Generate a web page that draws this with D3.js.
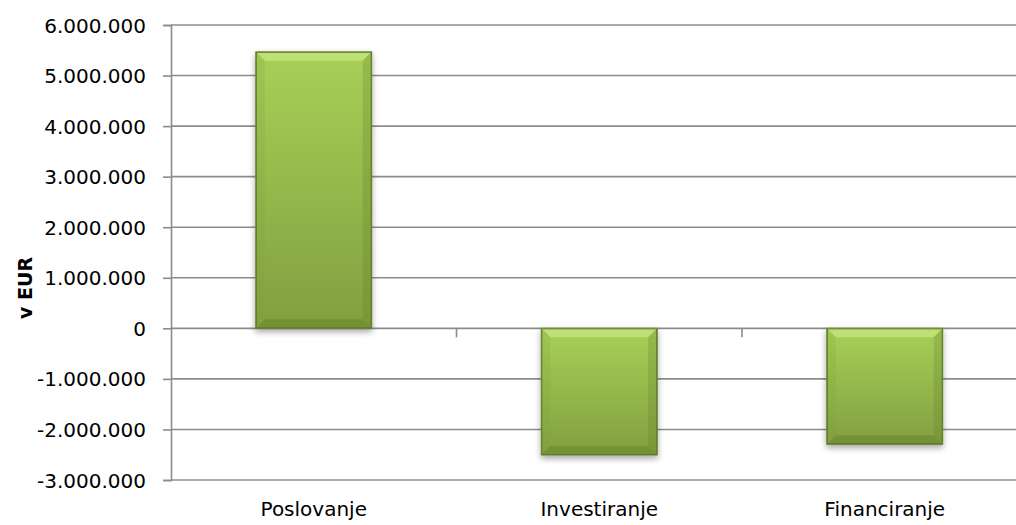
<!DOCTYPE html>
<html>
<head>
<meta charset="utf-8">
<script src="https://cdn.jsdelivr.net/npm/d3@7"></script>
<style>
  body { margin: 0; background: #fff; }
  text { font-family: "DejaVu Sans", sans-serif; fill: #000; }
</style>
</head>
<body>
<script>
// chart data
var categories = ["Poslovanje", "Investiranje", "Financiranje"];
var values = [5470000, -2506000, -2294000];
var tickValues = [-3000000, -2000000, -1000000, 0, 1000000, 2000000, 3000000, 4000000, 5000000, 6000000];
var axisTitle = "v EUR";

var w = 1016, h = 525;

var svg = d3.select("body").append("svg")
    .attr("width", w)
    .attr("height", h);

var defs = svg.append("defs");

// bar fill, light at the top, darker at the bottom
var grad = defs.append("linearGradient")
    .attr("id", "barFill")
    .attr("x1", 0).attr("y1", 0).attr("x2", 0).attr("y2", 1);
grad.append("stop").attr("offset", "0%").attr("stop-color", "#a8d057");
grad.append("stop").attr("offset", "100%").attr("stop-color", "#829f40");

var shadow = defs.append("filter")
    .attr("id", "shadow")
    .attr("x", "-20%").attr("y", "-20%")
    .attr("width", "140%").attr("height", "140%");
shadow.append("feDropShadow")
    .attr("dx", 0).attr("dy", 3)
    .attr("stdDeviation", 3)
    .attr("flood-color", "#000")
    .attr("flood-opacity", 0.35);

var x = d3.scaleBand()
    .domain(categories)
    .range([171, 1027.5])
    .paddingInner(0.594)
    .paddingOuter(0.297);

var y = d3.scaleLinear()
    .domain([-3000000, 6000000])
    .range([480, 25]);

var fmt = function(d){
    return d3.format(",")(d).replace(/,/g, ".").replace("−", "-");
};

// horizontal gridlines
svg.append("g")
    .selectAll("line")
    .data(tickValues)
    .enter()
    .append("line")
    .attr("x1", 171)
    .attr("x2", 1027.5)
    .attr("y1", function(d){ return y(d); })
    .attr("y2", function(d){ return y(d); })
    .style("stroke", "#8c8c8c")
    .style("stroke-width", 1.6);

// y axis
var yAxis = d3.axisLeft(y)
    .tickValues(tickValues)
    .tickSize(8)
    .tickPadding(17)
    .tickFormat(fmt);

var gy = svg.append("g")
    .attr("transform", "translate(171,0)")
    .call(yAxis);
gy.select(".domain").style("stroke", "#8c8c8c").style("stroke-width", 1.6);
gy.selectAll(".tick line").style("stroke", "#8c8c8c").style("stroke-width", 1.6);
gy.selectAll(".tick text")
    .style("font-size", "20px")
    .style("font-family", "'DejaVu Sans', sans-serif")
    .attr("dy", "0.35em");

// category ticks on the zero line
svg.append("g")
    .selectAll("line")
    .data(categories.slice(1))
    .enter()
    .append("line")
    .attr("x1", function(d){ return x(d) - x.step() * x.paddingInner() / 2; })
    .attr("x2", function(d){ return x(d) - x.step() * x.paddingInner() / 2; })
    .attr("y1", y(0))
    .attr("y2", y(0) + 9)
    .style("stroke", "#8c8c8c")
    .style("stroke-width", 1.6);

// bars
var bars = svg.append("g")
    .selectAll("g")
    .data(values)
    .enter()
    .append("g");

bars.append("rect")
    .attr("x", function(d, i){ return x(categories[i]); })
    .attr("width", x.bandwidth())
    .attr("y", function(d){ return y(Math.max(0, d)); })
    .attr("height", function(d){ return Math.abs(y(d) - y(0)); })
    .attr("fill", "url(#barFill)")
    .attr("stroke", "#6f8a35")
    .attr("stroke-width", 1)
    .attr("filter", "url(#shadow)");

// bevel edges
var bev = 9;
function edge(d, i, side){
    var x0 = x(categories[i]), x1 = x0 + x.bandwidth();
    var y0 = y(Math.max(0, d)), y1 = y(Math.min(0, d));
    var p;
    if (side === "top") p = [[x0, y0], [x1, y0], [x1 - bev, y0 + bev], [x0 + bev, y0 + bev]];
    if (side === "bottom") p = [[x0, y1], [x1, y1], [x1 - bev, y1 - bev], [x0 + bev, y1 - bev]];
    if (side === "left") p = [[x0, y0], [x0 + bev, y0 + bev], [x0 + bev, y1 - bev], [x0, y1]];
    if (side === "right") p = [[x1, y0], [x1 - bev, y0 + bev], [x1 - bev, y1 - bev], [x1, y1]];
    return p.map(function(q){ return q.join(","); }).join(" ");
}
var bevelStyles = [
    ["top", "#c4e57f", 0.8],
    ["bottom", "#5f7a28", 0.4],
    ["left", "#7f9f3d", 0.2],
    ["right", "#5f7a28", 0.25]
];
bevelStyles.forEach(function(s){
    bars.append("polygon")
        .attr("points", function(d, i){ return edge(d, i, s[0]); })
        .style("fill", s[1])
        .style("opacity", s[2]);
});
bars.append("rect")
    .attr("x", function(d, i){ return x(categories[i]) + 0.5; })
    .attr("width", x.bandwidth() - 1)
    .attr("y", function(d){ return y(Math.max(0, d)) + 0.5; })
    .attr("height", function(d){ return Math.abs(y(d) - y(0)) - 1; })
    .style("fill", "none")
    .style("stroke", "#5d7a26")
    .style("stroke-width", 1);

// category labels
svg.append("g")
    .selectAll("text")
    .data(categories)
    .enter()
    .append("text")
    .attr("x", function(d){ return x(d) + x.bandwidth() / 2; })
    .attr("y", 516)
    .attr("text-anchor", "middle")
    .style("font-size", "20px")
    .text(function(d){ return d; });

// axis title
svg.append("text")
    .attr("transform", "translate(32,288) rotate(-90)")
    .attr("text-anchor", "middle")
    .style("font-size", "19px")
    .style("font-weight", "bold")
    .text(axisTitle);
</script>
</body>
</html>
